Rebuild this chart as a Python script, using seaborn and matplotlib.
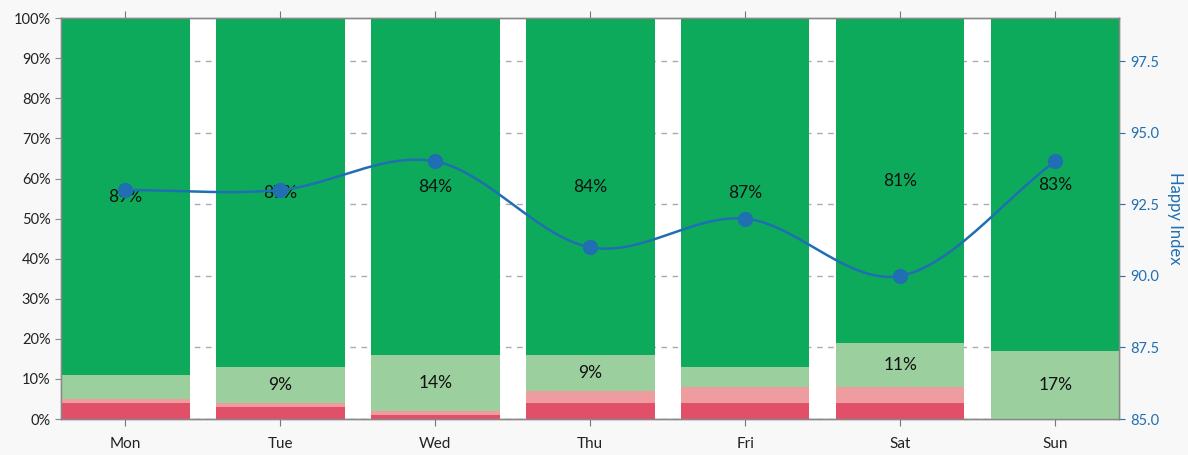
import numpy as np
import pandas as pd
import matplotlib
matplotlib.use('Agg')
import matplotlib.pyplot as plt
import seaborn as sns

days = ['Mon', 'Tue', 'Wed', 'Thu', 'Fri', 'Sat', 'Sun']
very_unhappy = [4, 3, 1, 4, 4, 4, 0]
unhappy = [1, 1, 1, 3, 4, 4, 0]
neutral = [6, 9, 14, 9, 5, 11, 17]
happy = [89, 87, 84, 84, 87, 81, 83]
happy_index = [93, 93, 94, 91, 92, 90, 94]

colors = ['#e14f69', '#ef9ca0', '#9ccf9e', '#0eaa5c']
line_color = '#1f6fb2'
bar_w = 0.83

sns.set_style('white')
plt.rcParams['font.family'] = ['Lato', 'DejaVu Sans']

fig = plt.figure(figsize=(11.88, 4.55), dpi=100, facecolor='#f8f8f8')
ax = fig.add_axes([0.0513, 0.079, 0.891, 0.881])
ax2 = ax.twinx()
ax.set_zorder(2)
ax.patch.set_visible(False)
ax2.set_zorder(1)
ax2.patch.set_visible(True)
ax2.set_facecolor('white')

df = pd.DataFrame({'day': days, 'vu': very_unhappy, 'u': unhappy,
                   'n': neutral, 'h': happy})
layers = [df['vu'], df['u'], df['n'], df['h']]
cum = np.cumsum(np.array(layers), axis=0)

# draw tallest stack first so lower layers sit on top
for i in range(3, -1, -1):
    sns.barplot(x=days, y=cum[i], color=colors[i], width=bar_w,
                saturation=1, ax=ax, linewidth=0, zorder=2)

for i, vals in enumerate(layers):
    for j, v in enumerate(vals):
        if v >= 8:
            ax.text(j, cum[i][j] - v / 2, f'{v}%', ha='center', va='center',
                    fontsize=12.5, color='#111111', zorder=5)

# smooth line (cardinal spline through the points)
xs = np.arange(len(days), dtype=float)
ys = np.array(happy_index, dtype=float)
tang = np.zeros_like(ys)
tang[1:-1] = (ys[2:] - ys[:-2]) / 2
tang[0] = ys[1] - ys[0]
tang[-1] = ys[-1] - ys[-2]
cx, cy = [], []
t = np.linspace(0, 1, 30)
h00 = 2 * t**3 - 3 * t**2 + 1
h10 = t**3 - 2 * t**2 + t
h01 = -2 * t**3 + 3 * t**2
h11 = t**3 - t**2
for k in range(len(xs) - 1):
    cx.extend(xs[k] + t)
    cy.extend(h00 * ys[k] + h10 * tang[k] + h01 * ys[k + 1] + h11 * tang[k + 1])
ax.plot(cx, cy, color=line_color, lw=1.8, transform=ax2.transData, zorder=6)
ax.plot(xs, ys, 'o', color=line_color, ms=10, transform=ax2.transData, zorder=7)

ax.set_xlim(-bar_w / 2, len(days) - 1 + bar_w / 2)
ax.set_ylim(0, 100)
ax.set_yticks(range(0, 101, 10))
ax.set_yticklabels([f'{v}%' for v in range(0, 101, 10)])
ax.set_xlabel('')
ax.set_ylabel('')

ax2.set_ylim(85, 99)
ax2.set_yticks([85, 87.5, 90, 92.5, 95, 97.5])
ax2.set_yticklabels(['85.0', '87.5', '90.0', '92.5', '95.0', '97.5'])
ax2.set_ylabel('Happy Index', color=line_color, fontsize=12, rotation=270,
               labelpad=17)
ax2.tick_params(axis='y', colors=line_color, labelsize=10.5, length=4)
ax2.yaxis.grid(True, linestyle=(0, (4, 4)), color='#aaaaaa', lw=1)

ax.tick_params(axis='y', color='#888888', labelsize=10.5, length=4,
               labelcolor='#222222')
ax.tick_params(axis='x', labelsize=11, length=5, colors='#777777',
               labelcolor='#222222', pad=8, direction='out')
ax.xaxis.set_ticks_position('both')

for a in (ax, ax2):
    for s in a.spines.values():
        s.set_color('#888888')
        s.set_linewidth(1)

fig.savefig('out.png', dpi=100, facecolor=fig.get_facecolor())
